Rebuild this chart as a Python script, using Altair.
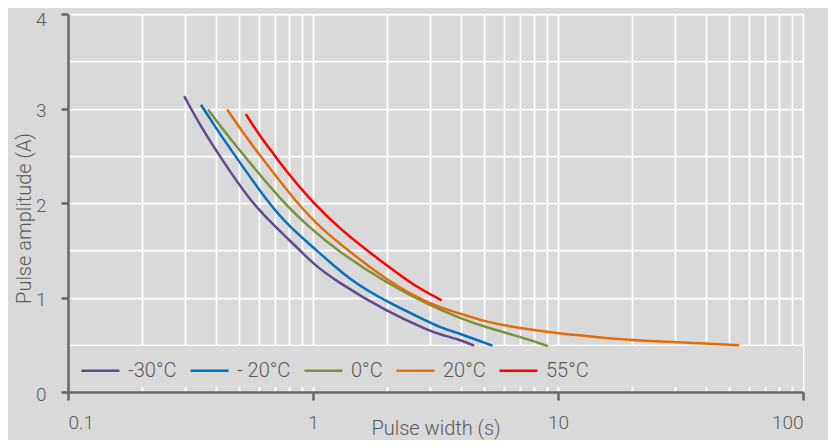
import altair as alt
import pandas as pd

series_names = ["-30°C", "- 20°C", "0°C", "20°C", "55°C"]
series_colors = ["#5f4b8b", "#0070c0", "#77933c", "#e46c0a", "#ff0000"]

w_m30 = [0.298, 0.35, 0.415, 0.55, 0.70, 0.885, 1.0, 1.23, 2.0, 3.0, 3.3, 4.0, 4.55]
a_m30 = [3.13, 2.80, 2.50, 2.03, 1.75, 1.50, 1.36, 1.18, 0.85, 0.645, 0.61, 0.55, 0.49]

w_m20 = [0.349, 0.40, 0.481, 0.657, 0.80, 1.035, 1.416, 2.0, 3.0, 3.3, 4.0, 5.4]
a_m20 = [3.04, 2.80, 2.50, 2.00, 1.75, 1.50, 1.18, 0.955, 0.735, 0.685, 0.615, 0.49]

w_0 = [0.373, 0.44, 0.539, 0.757, 1.0, 1.25, 2.0, 3.0, 4.0, 5.0, 7.0, 9.1]
a_0 = [2.99, 2.74, 2.46, 2.00, 1.71, 1.50, 1.15, 0.915, 0.78, 0.69, 0.585, 0.486]

w_20 = [0.446, 0.52, 0.608, 0.858, 1.10, 1.39, 2.0, 3.0, 4.0, 5.0, 7.0, 10, 14.8, 20, 30, 40, 55]
a_20 = [2.99, 2.74, 2.50, 2.00, 1.71, 1.50, 1.18, 0.925, 0.83, 0.745, 0.673, 0.62, 0.578, 0.548, 0.528, 0.514, 0.494]

w_55 = [0.532, 0.61, 0.70, 0.769, 1.0, 1.31, 1.66, 2.0, 2.6, 3.35]
a_55 = [2.94, 2.70, 2.50, 2.35, 2.00, 1.71, 1.50, 1.34, 1.12, 0.97]

x_labels = [0.1, 1, 10, 100]
x_grid = [0.1, 0.2, 0.3, 0.4, 0.5, 0.6, 0.7, 0.8, 0.9,
          1, 2, 3, 4, 5, 6, 7, 8, 9,
          10, 20, 30, 40, 50, 60, 70, 80, 90, 100]
y_labels = [0, 1, 2, 3, 4]
y_grid = [0, 0.5, 1, 1.5, 2, 2.5, 3, 3.5, 4]

widths = [w_m30, w_m20, w_0, w_20, w_55]
amps = [a_m30, a_m20, a_0, a_20, a_55]
frames = []
for name, ws, as_ in zip(series_names, widths, amps):
    frames.append(pd.DataFrame({"series": name, "width": ws, "amp": as_}))
df = pd.concat(frames, ignore_index=True)

FONT = "Roboto"
TXT = "#595959"
AX = "#666666"
BG = "#d9d9d9"

xscale = alt.Scale(type="log", domain=[0.1, 100], nice=False)
yscale = alt.Scale(domain=[0, 4], nice=False, zero=False)

grid = alt.Chart(df).mark_line(opacity=0).encode(
    x=alt.X("width:Q", scale=xscale,
            axis=alt.Axis(orient="top", values=x_grid, grid=True, labels=False,
                          ticks=False, domain=False, title=None,
                          gridColor="white", gridWidth=1.75, zindex=0)),
    y=alt.Y("amp:Q", scale=yscale,
            axis=alt.Axis(orient="right", values=y_grid, grid=True, labels=False,
                          ticks=False, domain=False, title=None,
                          gridColor="white", gridWidth=1.75, zindex=0)),
    detail="series:N",
)

band = alt.Chart(alt.Data(values=[{"k": 1}])).mark_rect(color=BG).encode(
    x=alt.value(2), x2=alt.value(735), y=alt.value(332), y2=alt.value(373)
)

top_label_offset = {"condition": {"test": "datum.value >= 4", "value": 5}, "value": 2}

lines = alt.Chart(df).mark_line(strokeWidth=2.5, interpolate="basis").encode(
    x=alt.X("width:Q", scale=xscale,
            axis=alt.Axis(orient="bottom", values=x_labels, format="~g", grid=False,
                          title="Pulse width (s)", titleY=42, titleBaseline="alphabetic",
                          tickSize=8, tickWidth=2.5, tickColor=AX,
                          domainColor=AX, domainWidth=2.5,
                          labelPadding=28, labelBaseline="alphabetic", zindex=1)),
    y=alt.Y("amp:Q", scale=yscale,
            axis=alt.Axis(orient="left", values=y_labels, grid=False,
                          title="Pulse amplitude (A)", titleX=-37.5, titleY=204,
                          titleAngle=270, titleAlign="center", titleBaseline="alphabetic",
                          tickSize=7, tickWidth=2.5, tickColor=AX,
                          domainColor=AX, domainWidth=2.5,
                          labelPadding=15, labelOffset=top_label_offset, zindex=1)),
    color=alt.Color("series:N",
                    scale=alt.Scale(domain=series_names, range=series_colors),
                    legend=alt.Legend(orient="none", legendX=12, legendY=336,
                                      direction="horizontal", title=None,
                                      symbolType="stroke", symbolSize=1444,
                                      symbolStrokeWidth=2.5, labelOffset=7,
                                      columnPadding=8, padding=0,
                                      labelFont=FONT, labelFontSize=20,
                                      labelFontWeight=300, labelColor=TXT)),
)

chart = alt.layer(grid, band, lines).resolve_axis(
    x="independent", y="independent"
).properties(
    width=735, height=378,
    autosize=alt.AutoSizeParams(type="none"),
    padding={"left": 60, "top": 6, "right": 25, "bottom": 48},
    background=BG,
).configure_view(fill=BG, stroke=None).configure_axis(
    labelFont=FONT, labelFontSize=19, labelFontWeight=300, labelColor=TXT,
    titleFont=FONT, titleFontSize=20, titleFontWeight=300, titleColor=TXT,
)

chart.save("out.html", embed_options={"renderer": "svg", "actions": False})
